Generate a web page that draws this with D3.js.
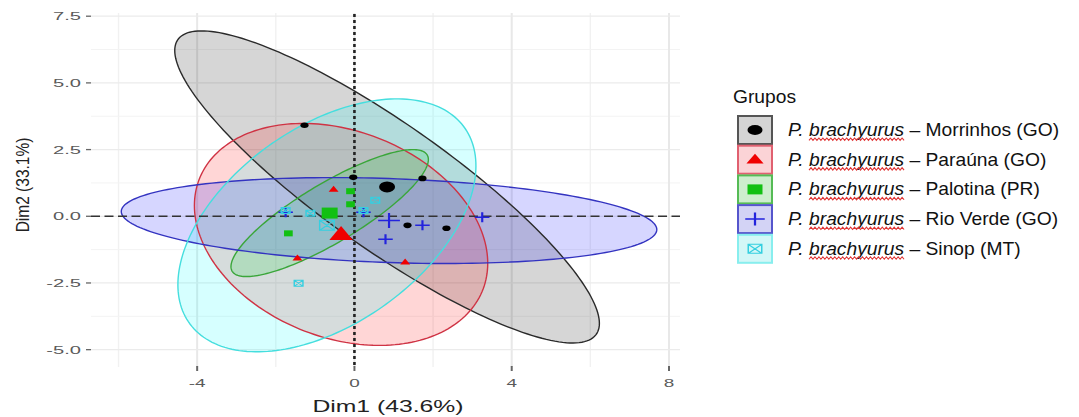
<!DOCTYPE html>
<html><head><meta charset="utf-8">
<script src="https://cdn.jsdelivr.net/npm/d3@7"></script>
<style>body{margin:0;background:#fff}svg{display:block}</style>
</head><body><svg id="c" width="1079" height="417"></svg>
<script>
// ---------- data ----------
const groupNames = ["Morrinhos (GO)", "Paraúna (GO)", "Palotina (PR)", "Rio Verde (GO)", "Sinop (MT)"];
const speciesName = "P. brachyurus";
const xTicks = [-4, 0, 4, 8];
const yTicks = [-5.0, -2.5, 0.0, 2.5, 5.0, 7.5];
const xLabel = "Dim1 (43.6%)";
const yLabel = "Dim2 (33.1%)";
const legendTitle = "Grupos";

// individuals per group [Dim1, Dim2]
const ptsMorrinhos = [[-1.27, 3.41], [-0.03, 1.46], [1.73, 1.42], [1.35, -0.34], [2.34, -0.45]];
const ptsParauna   = [[-0.53, 1.01], [1.29, -1.72], [-1.45, -1.57]];
const ptsPalotina  = [[-0.10, 0.94], [-0.10, 0.45], [-1.68, -0.64]];
const ptsRioVerde  = [[1.73, -0.34], [0.79, -0.86], [3.25, -0.04], [-1.75, 0.15], [0.23, 0.15]];
const ptsSinop     = [[0.53, 0.60], [-1.42, -2.51], [-1.12, 0.11], [-1.75, 0.22], [0.23, 0.22]];

// group means (ellipse centres)
const meanX = [0.83, -0.34, -0.63, 0.88, -0.70];
const meanY = [1.10, -0.68, 0.12, -0.16, -0.34];
// ellipse half-extents along Dim1 / Dim2 and correlation
const ellRx  = [5.40, 3.73, 2.51, 6.81, 3.79];
const ellRy  = [5.85, 4.16, 2.38, 1.61, 4.74];
const ellRho = [-0.874, -0.26, 0.843, -0.21, 0.47];

const allPts = [ptsMorrinhos, ptsParauna, ptsPalotina, ptsRioVerde, ptsSinop];

// ---------- styles ----------
const fillCol   = ["#000000", "#ff0000", "#00d000", "#0000ff", "#00ffff"];
const strokeCol = ["#2a2a2a", "#cf3344", "#3aa63a", "#3333c0", "#45dede"];
const ptCol     = ["#000000", "#f00000", "#12c012", "#2323dd", "#35cfe0"];
const shapes    = ["circle", "triangle", "square", "plus", "squarex"];
const SX = 1.45; // horizontal stretch of the plot image

const svg = d3.select("#c");
svg.append("rect").attr("width", 1079).attr("height", 417).attr("fill", "#fff");

const x = d3.scaleLinear().domain([-6.7, 8.28]).range([91, 680]);
const y = d3.scaleLinear().domain([-5.65, 7.62]).range([367, 13]);
const [px0, px1] = x.range();
const [py1, py0] = y.range();

// grid
const g = svg.append("g");
const xMinor = [-6, -2, 2, 6];
const yMinor = [-3.75, -1.25, 1.25, 3.75, 6.25];
g.selectAll(".vmin").data(xMinor).join("line")
  .attr("x1", d => x(d)).attr("x2", d => x(d)).attr("y1", py0).attr("y2", py1)
  .attr("stroke", "#f1f1f1").attr("stroke-width", 1.4);
g.selectAll(".hmin").data(yMinor).join("line")
  .attr("x1", px0).attr("x2", px1).attr("y1", d => y(d)).attr("y2", d => y(d))
  .attr("stroke", "#f3f3f3").attr("stroke-width", 1);
g.selectAll(".vmaj").data(xTicks).join("line")
  .attr("x1", d => x(d)).attr("x2", d => x(d)).attr("y1", py0).attr("y2", py1)
  .attr("stroke", "#e8e8e8").attr("stroke-width", 2);
g.selectAll(".hmaj").data(yTicks).join("line")
  .attr("x1", px0).attr("x2", px1).attr("y1", d => y(d)).attr("y2", d => y(d))
  .attr("stroke", "#ebebeb").attr("stroke-width", 1.3);

// ellipses
function ellipsePts(i) {
  const s = Math.sqrt(1 - ellRho[i] * ellRho[i]);
  return d3.range(0, 200).map(k => {
    const t = k / 200 * 2 * Math.PI;
    return [x(meanX[i] + ellRx[i] * Math.cos(t)),
            y(meanY[i] + ellRy[i] * (ellRho[i] * Math.cos(t) + s * Math.sin(t)))];
  });
}
const lineGen = d3.line().curve(d3.curveLinearClosed);
const eg = svg.append("g");
groupNames.forEach((n, i) => {
  eg.append("path").attr("d", lineGen(ellipsePts(i)))
    .attr("fill", fillCol[i]).attr("fill-opacity", 0.16).attr("stroke", "none");
});
groupNames.forEach((n, i) => {
  eg.append("path").attr("d", lineGen(ellipsePts(i)))
    .attr("fill", "none").attr("stroke", strokeCol[i]).attr("stroke-width", 1.4);
});

// reference lines
svg.append("line").attr("x1", px0).attr("x2", px1).attr("y1", y(0)).attr("y2", y(0))
  .attr("stroke", "#333").attr("stroke-width", 1.4).attr("stroke-dasharray", "9,4.5");
svg.append("line").attr("x1", x(0)).attr("x2", x(0)).attr("y1", py0 + 1).attr("y2", py1)
  .attr("stroke", "#222").attr("stroke-width", 2.6).attr("stroke-dasharray", "3,3");

// markers
function markerPath(shape, s) {
  switch (shape) {
    case "circle": return `M${-s},0A${s},${s} 0 1,0 ${s},0A${s},${s} 0 1,0 ${-s},0Z`;
    case "triangle": return `M0,${-s}L${0.95 * s},${0.65 * s}L${-0.95 * s},${0.65 * s}Z`;
    case "square": return `M${-s},${-s}H${s}V${s}H${-s}Z`;
    case "plus": return `M${-s},0H${s}M0,${-s}V${s}`;
    case "squarex": return `M${-s},${-s}H${s}V${s}H${-s}ZM${-s},${-s}L${s},${s}M${s},${-s}L${-s},${s}`;
  }
}
function drawMarker(sel, shape, cx, cy, s, col, sx) {
  const filled = shape === "circle" || shape === "triangle" || shape === "square";
  return sel.append("path").attr("d", markerPath(shape, s))
    .attr("transform", `translate(${cx},${cy}) scale(${sx},1)`)
    .attr("fill", filled ? col : "none")
    .attr("stroke", filled ? "none" : col)
    .attr("stroke-width", shape === "plus" ? 1.5 : 1);
}
const smallSize = [2.8, 3.6, 3, 5, 3];
const bigSize = [5.5, 8.5, 5.5, 7.5, 5];
const pg = svg.append("g");
allPts.forEach((pts, i) => {
  pts.forEach(p => drawMarker(pg, shapes[i], x(p[0]), y(p[1]), smallSize[i], ptCol[i], SX));
});
groupNames.forEach((n, i) => {
  drawMarker(pg, shapes[i], x(meanX[i]), y(meanY[i]), bigSize[i], ptCol[i], SX);
});

// axes ticks + labels
const tickCol = "#5a5a5a";
const fontF = "Liberation Sans, Arial, sans-serif";
svg.selectAll(".yt").data(yTicks).join("line")
  .attr("x1", 86).attr("x2", 91).attr("y1", d => y(d)).attr("y2", d => y(d))
  .attr("stroke", "#666").attr("stroke-width", 1.3);
svg.selectAll(".ytl").data(yTicks).join("text")
  .attr("transform", d => `translate(81,${y(d) + 4}) scale(1.75,1)`)
  .attr("text-anchor", "end").attr("font-family", fontF)
  .attr("font-size", 11.5).attr("fill", tickCol).text(d => d.toFixed(1));
svg.selectAll(".xt").data(xTicks).join("line")
  .attr("x1", d => x(d)).attr("x2", d => x(d)).attr("y1", 366).attr("y2", 371)
  .attr("stroke", "#666").attr("stroke-width", 2);
svg.selectAll(".xtl").data(xTicks).join("text")
  .attr("transform", d => `translate(${x(d)},387) scale(1.65,1)`)
  .attr("text-anchor", "middle").attr("font-family", fontF)
  .attr("font-size", 11.5).attr("fill", tickCol).text(d => String(d));

svg.append("text").attr("transform", "translate(388,412) scale(1.5,1)")
  .attr("text-anchor", "middle").attr("font-family", fontF)
  .attr("font-size", 16.5).attr("fill", "#222").text(xLabel);
svg.append("text").attr("transform", "translate(29,185) scale(1.2,1) rotate(-90)")
  .attr("text-anchor", "middle").attr("font-family", fontF)
  .attr("font-size", 15.5).attr("fill", "#222").text(yLabel);

// legend
const lg = svg.append("g");
lg.append("text").attr("transform", "translate(733,103) scale(1.1,1)")
  .attr("font-family", fontF).attr("font-size", 17.5).attr("fill", "#111").text(legendTitle);
const keyFill = ["#d4d4d4", "#fbd3d6", "#cdeecd", "#d3d3f5", "#d3f7f7"];
const keyStroke = ["#555", "#e06070", "#55bb55", "#5555cc", "#88eeee"];
const keySym = [5, 6, 5, 6.5, 4.5];
groupNames.forEach((n, i) => {
  const cy = 130 + i * 29.7;
  lg.append("rect").attr("x", 738).attr("y", cy - 14).attr("width", 34).attr("height", 28)
    .attr("fill", keyFill[i]).attr("stroke", keyStroke[i]).attr("stroke-width", 2);
  drawMarker(lg, shapes[i], 755, cy, keySym[i], ptCol[i], 1.5);
  const tg = lg.append("g").attr("transform", `translate(788,${cy + 6}) scale(1.1,1)`);
  const t = tg.append("text").attr("font-family", fontF).attr("font-size", 17.5).attr("fill", "#111");
  t.append("tspan").attr("font-style", "italic").text(speciesName);
  t.append("tspan").text(" \u2013 " + n);
  const node = t.node();
  const a = node.getStartPositionOfChar(3).x;
  const b = node.getEndPositionOfChar(speciesName.length - 1).x;
  const wave = [];
  for (let xx = a, k = 0; xx <= b + 0.01; xx += 1.8, k++) wave.push([xx, 3.2 + (k % 2 ? -1.2 : 1.2)]);
  tg.append("path").attr("d", d3.line()(wave)).attr("fill", "none")
    .attr("stroke", "#e03535").attr("stroke-width", 1);
});
</script></body></html>
